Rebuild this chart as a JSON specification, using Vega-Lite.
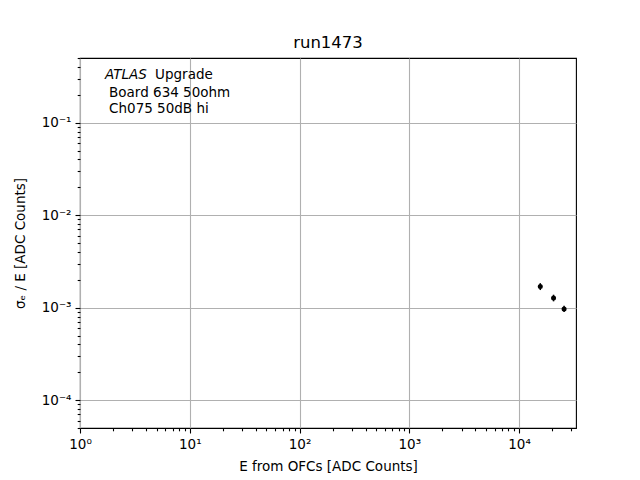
{
  "$schema": "https://vega.github.io/schema/vega-lite/v6.json",
  "width": 496,
  "height": 370,
  "autosize": "none",
  "padding": {"left": 80, "top": 58, "right": 64, "bottom": 52},
  "background": "white",
  "title": {"text": "run1473", "font": "DejaVu Sans", "fontSize": 16.5, "fontWeight": "normal", "color": "black", "offset": 0},
  "config": {
    "view": {"stroke": "black", "strokeWidth": 1.1},
    "axis": {
      "domain": false,
      "grid": true,
      "gridColor": "#b0b0b0",
      "gridWidth": 1.1,
      "tickColor": "black",
      "tickWidth": 1.1,
      "labelColor": "black",
      "labelFont": "DejaVu Sans",
      "labelFontSize": 13.5,
      "titleFont": "DejaVu Sans",
      "titleFontSize": 13.5,
      "titleFontWeight": "normal",
      "titleColor": "black",
      "labelPadding": 4,
      "labelFlush": false,
      "labelOverlap": false
    }
  },
  "layer": [
    {
      "data": {
        "values": [
          {"E": 15600, "res": 0.00169, "lo": 0.00155, "hi": 0.00184},
          {"E": 20600, "res": 0.00127, "lo": 0.00117, "hi": 0.00138},
          {"E": 25700, "res": 0.00097, "lo": 0.00090, "hi": 0.00105}
        ]
      },
      "layer": [
        {
          "mark": {"type": "rule", "color": "black", "strokeWidth": 1.5},
          "encoding": {
            "x": {
              "field": "E", "type": "quantitative",
              "scale": {"type": "log", "domain": [1, 33000], "nice": false},
              "axis": {
                "title": "E from OFCs [ADC Counts]",
                "titlePadding": 9,
                "values": [1,2,3,4,5,6,7,8,9,10,20,30,40,50,60,70,80,90,100,200,300,400,500,600,700,800,900,1000,2000,3000,4000,5000,6000,7000,8000,9000,10000,20000,30000],
                "labelExpr": "abs(log(datum.value)/LN10 - round(log(datum.value)/LN10)) < 0.001 ? '10' + (round(log(datum.value)/LN10) < 0 ? '⁻' : '') + ['⁰','¹','²','³','⁴','⁵','⁶'][abs(round(log(datum.value)/LN10))] : ''",
                "tickSize": {"condition": {"test": "abs(log(datum.value)/LN10 - round(log(datum.value)/LN10)) < 0.001", "value": 5}, "value": 2.8},
                "gridOpacity": {"condition": {"test": "abs(log(datum.value)/LN10 - round(log(datum.value)/LN10)) < 0.001", "value": 1}, "value": 0}
              }
            },
            "y": {
              "field": "lo", "type": "quantitative",
              "scale": {"type": "log", "domain": [0.00005, 0.5], "nice": false},
              "axis": {
                "title": "σₑ / E [ADC Counts]",
                "titlePadding": 14,
                "values": [0.00005,0.00006,0.00007,0.00008,0.00009,0.0001,0.0002,0.0003,0.0004,0.0005,0.0006,0.0007,0.0008,0.0009,0.001,0.002,0.003,0.004,0.005,0.006,0.007,0.008,0.009,0.01,0.02,0.03,0.04,0.05,0.06,0.07,0.08,0.09,0.1,0.2,0.3,0.4,0.5],
                "labelExpr": "abs(log(datum.value)/LN10 - round(log(datum.value)/LN10)) < 0.001 ? '10' + (round(log(datum.value)/LN10) < 0 ? '⁻' : '') + ['⁰','¹','²','³','⁴','⁵','⁶'][abs(round(log(datum.value)/LN10))] : ''",
                "tickSize": {"condition": {"test": "abs(log(datum.value)/LN10 - round(log(datum.value)/LN10)) < 0.001", "value": 5}, "value": 2.8},
                "gridOpacity": {"condition": {"test": "abs(log(datum.value)/LN10 - round(log(datum.value)/LN10)) < 0.001", "value": 1}, "value": 0}
              }
            },
            "y2": {"field": "hi"}
          }
        },
        {
          "mark": {"type": "point", "filled": true, "color": "black", "size": 25, "opacity": 1},
          "encoding": {
            "x": {"field": "E", "type": "quantitative"},
            "y": {"field": "res", "type": "quantitative"}
          }
        }
      ]
    },
    {
      "data": {"values": [{"line": 1}]},
      "mark": {"type": "text", "text": "ATLAS", "fontStyle": "italic", "font": "DejaVu Sans", "fontSize": 13.5, "align": "left", "baseline": "middle", "color": "black"},
      "encoding": {"x": {"datum": 1.69}, "y": {"datum": 0.33}}
    },
    {
      "data": {"values": [{"line": 1}]},
      "mark": {"type": "text", "text": "Upgrade", "font": "DejaVu Sans", "fontSize": 13.5, "align": "left", "baseline": "middle", "color": "black"},
      "encoding": {"x": {"datum": 4.83}, "y": {"datum": 0.33}}
    },
    {
      "data": {"values": [{"line": 2}]},
      "mark": {"type": "text", "text": "Board 634 50ohm", "font": "DejaVu Sans", "fontSize": 13.5, "align": "left", "baseline": "middle", "color": "black"},
      "encoding": {"x": {"datum": 1.84}, "y": {"datum": 0.211}}
    },
    {
      "data": {"values": [{"line": 3}]},
      "mark": {"type": "text", "text": "Ch075 50dB hi", "font": "DejaVu Sans", "fontSize": 13.5, "align": "left", "baseline": "middle", "color": "black"},
      "encoding": {"x": {"datum": 1.84}, "y": {"datum": 0.1416}}
    }
  ]
}
